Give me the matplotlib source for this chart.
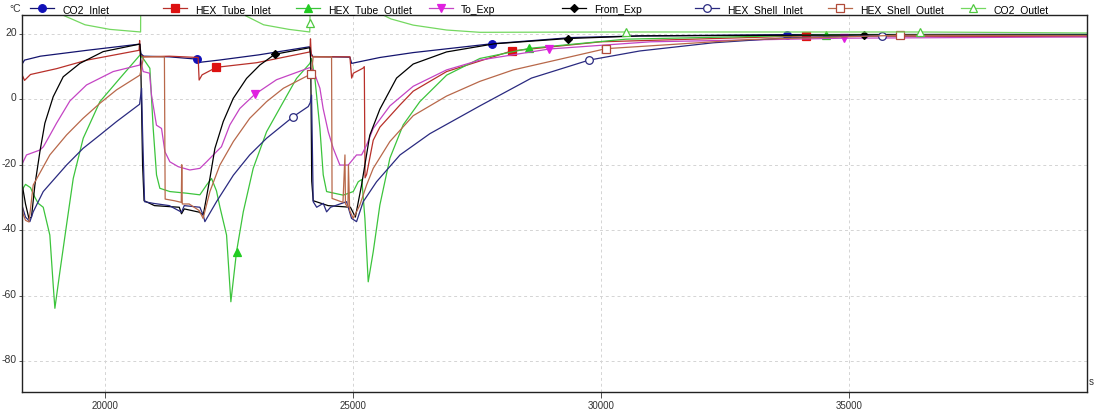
import matplotlib
matplotlib.use("Agg")
import matplotlib.pyplot as plt
import matplotlib.transforms as mtransforms
from matplotlib.lines import Line2D

# time [s], temperature [degC]
co2_inlet = [(18320, 10.5), (18380, 12.0), (18700, 13.2), (19640, 15.0), (20705, 16.9), (20725, 14.0),
             (20780, 13.2), (21300, 13.0), (21850, 12.3), (21900, 11.3), (22300, 12.0), (23100, 13.6),
             (24133, 16.1), (24160, 14.0), (24190, 13.1), (24600, 13.0), (24940, 12.9), (24975, 11.0),
             (25544, 12.8), (26216, 14.3), (27800, 17.0), (29410, 18.9), (30786, 19.4), (33750, 19.8),
             (39800, 19.9)]
hex_tube_inlet = [(18320, 5.0), (18340, 7.2), (18380, 5.8), (18500, 7.6), (19030, 9.4), (19640, 12.0),
                  (20690, 15.0), (20700, 18.0), (20712, 13.5), (20780, 13.0), (21300, 13.2), (21880, 12.8),
                  (21900, 5.9), (21960, 7.5), (22250, 9.8), (23058, 11.2), (24133, 14.5), (24145, 18.5),
                  (24160, 13.5), (24190, 13.0), (24940, 13.0), (24975, 6.5), (25010, 8.0), (25200, 9.5),
                  (25230, 10.0), (25245, -24.0), (25276, -23.0), (25410, -12.5), (25544, -8.5), (25950, -1.7),
                  (26216, 2.5), (26890, 8.5), (28200, 14.8), (30000, 17.6), (34140, 19.4), (39800, 19.2)]
hex_tube_outlet = [(18320, -28.0), (18400, -26.0), (18500, -27.0), (18590, -30.0), (18656, -31.8),
                   (18757, -33.0), (18890, -41.5), (18958, -56.8), (18992, -63.9), (19093, -52.7),
                   (19227, -38.4), (19362, -24.2), (19563, -11.9), (19900, -0.7), (20300, 6.4), (20705, 13.5),
                   (20772, 12.5), (20907, 9.5), (20974, -8.9), (21041, -23.1), (21108, -27.2), (21310, -28.2),
                   (21646, -28.7), (21915, -29.2), (22050, -26.2), (22150, -24.2), (22250, -28.0),
                   (22320, -33.0), (22453, -41.5), (22540, -61.9), (22654, -46.6), (22790, -34.4),
                   (22990, -21.1), (23260, -9.9), (23600, -0.7), (23864, 6.4), (24133, 11.0), (24167, 12.5),
                   (24234, 6.4), (24335, -8.9), (24402, -23.1), (24470, -28.2), (24805, -29.3), (25007, -28.2),
                   (25108, -25.2), (25180, -24.5), (25242, -36.4), (25309, -55.8), (25410, -46.6),
                   (25544, -32.3), (25746, -18.0), (26014, -7.8), (26350, -0.7), (26890, 7.4), (27560, 12.5),
                   (28560, 15.6), (30500, 18.4), (34540, 19.7), (39800, 19.8)]
to_exp = [(18320, -20.1), (18420, -17.0), (18690, -15.5), (18760, -14.5), (18890, -11.0), (19025, -7.3),
          (19294, -0.5), (19630, 4.4), (20168, 8.5), (20705, 10.5), (20720, 12.0), (20772, 8.5), (20900, 8.0),
          (20940, 1.3), (21040, -7.9), (21142, -8.9), (21210, -16.0), (21310, -19.1), (21480, -20.6),
          (21713, -21.6), (21915, -21.1), (22050, -19.1), (22250, -16.0), (22350, -14.5), (22520, -7.8),
          (22720, -2.8), (23020, 1.5), (23460, 6.0), (24130, 9.7), (24200, 9.0), (24335, 3.4), (24400, -2.8),
          (24503, -9.9), (24604, -15.0), (24738, -20.1), (24906, -20.1), (25074, -17.0), (25175, -17.0),
          (25276, -14.0), (25410, -8.9), (25746, -2.0), (26216, 4.0), (26888, 9.0), (27560, 12.0),
          (28960, 15.4), (31000, 17.6), (34900, 18.7), (39800, 19.1)]
from_exp = [(18320, -25.0), (18400, -32.0), (18470, -36.5), (18520, -36.0), (18589, -26.2), (18690, -16.0),
            (18790, -7.3), (18958, 0.8), (19160, 6.9), (19496, 11.0), (19966, 14.6), (20705, 16.9),
            (20720, 14.0), (20760, -20.0), (20790, -31.0), (21000, -32.5), (21500, -33.0), (21545, -35.0),
            (21600, -33.5), (21900, -34.5), (21983, -35.4), (22117, -24.2), (22218, -15.0), (22386, -6.8),
            (22588, 0.3), (22856, 6.4), (23125, 10.5), (23428, 13.8), (24133, 15.8), (24150, 12.0),
            (24170, -25.0), (24200, -31.0), (24500, -32.5), (24950, -33.0), (25050, -36.0), (25175, -26.2),
            (25340, -11.0), (25544, -3.0), (25880, 6.5), (26216, 10.8), (26888, 14.5), (27860, 17.0),
            (29340, 18.6), (30786, 19.4), (35300, 19.7), (39800, 19.7)]
hex_shell_inlet = [(18320, -32.0), (18400, -36.0), (18488, -37.4), (18555, -34.4), (18757, -28.2),
                   (19227, -20.1), (19560, -15.0), (19900, -10.9), (20235, -6.8), (20638, -2.2), (20700, -1.5),
                   (20740, 3.4), (20760, -10.0), (20800, -31.3), (20974, -31.8), (21300, -32.5), (21545, -34.5),
                   (21600, -32.5), (21915, -33.0), (21982, -35.4), (22016, -37.4), (22250, -31.3),
                   (22590, -23.2), (22920, -17.0), (23260, -11.9), (23797, -5.3), (24100, -2.2), (24140, -1.0),
                   (24167, 1.3), (24200, -31.3), (24270, -33.0), (24402, -31.8), (24470, -34.4), (24550, -33.0),
                   (24872, -31.3), (24973, -36.4), (25074, -37.4), (25208, -31.3), (25477, -25.2),
                   (25950, -17.0), (26552, -10.5), (27560, -2.0), (28600, 6.5), (29760, 12.0), (30786, 14.8),
                   (32264, 17.3), (33742, 18.8), (35660, 19.5), (39800, 19.6)]
hex_shell_outlet = [(18320, -30.0), (18350, -35.0), (18400, -37.0), (18470, -37.5), (18555, -26.2),
                    (18890, -17.0), (19227, -10.9), (19560, -5.8), (19900, -1.2), (20235, 2.9), (20705, 7.4),
                    (20730, 9.0), (20780, 13.0), (21200, 13.0), (21215, -30.5), (21400, -31.0), (21540, -31.5),
                    (21550, -20.0), (21560, -32.0), (21700, -32.0), (21900, -34.0), (21980, -36.4),
                    (22117, -28.2), (22318, -20.1), (22590, -12.9), (22920, -5.8), (23260, -0.7), (23600, 3.4),
                    (24160, 7.8), (24175, 9.5), (24200, 13.0), (24570, 13.0), (24580, -30.3), (24800, -31.5),
                    (24840, -17.0), (24850, -32.0), (24900, -33.0), (24910, -20.0), (24935, -34.0),
                    (25007, -36.4), (25141, -32.3), (25276, -26.2), (25410, -21.1), (25746, -12.9),
                    (26216, -5.0), (26888, 1.0), (27560, 5.5), (28232, 9.0), (29240, 12.5), (30100, 15.5),
                    (33000, 18.3), (36040, 19.6), (39800, 19.5)]
co2_outlet = [(18320, 60.0), (18900, 40.0), (19050, 30.0), (19160, 25.7), (19600, 22.8), (20100, 21.4),
              (20720, 20.6), (20730, 60.0), (22550, 60.0), (22700, 30.0), (22780, 26.0), (23200, 22.8),
              (23710, 21.4), (24130, 20.6), (24135, 23.4), (24140, 60.0), (25200, 40.0), (25450, 27.0),
              (25766, 24.6), (26216, 22.7), (26890, 21.2), (27560, 20.5), (30500, 20.6), (36440, 20.6),
              (39800, 20.3)]

# x positions where the chart puts its series symbols
marks = {
    "CO2_Inlet": [21850, 27800, 33750],
    "HEX_Tube_Inlet": [22250, 28200, 34140],
    "HEX_Tube_Outlet": [22654, 28560, 34540],
    "To_Exp": [23020, 28960, 34900],
    "From_Exp": [23428, 29340, 35300],
    "HEX_Shell_Inlet": [23797, 29760, 35660],
    "HEX_Shell_Outlet": [24160, 30100, 36040],
    "CO2_Outlet": [24135, 30500, 36440],
}

x_ticks = [20000, 25000, 30000, 35000]
y_ticks = [-80, -60, -40, -20, 0, 20]

# name, data, line colour, marker, marker face, marker edge
series = [
    ("CO2_Inlet", co2_inlet, "#14146e", "o", "#1010b8", "#1010b8"),
    ("HEX_Tube_Inlet", hex_tube_inlet, "#b8302a", "s", "#dd1111", "#dd1111"),
    ("HEX_Tube_Outlet", hex_tube_outlet, "#3cc43c", "^", "#22cc22", "#22cc22"),
    ("To_Exp", to_exp, "#c444c4", "v", "#e020e0", "#e020e0"),
    ("From_Exp", from_exp, "#000000", "D", "#000000", "#000000"),
    ("HEX_Shell_Inlet", hex_shell_inlet, "#2a2a80", "o", "white", "#2a2a80"),
    ("HEX_Shell_Outlet", hex_shell_outlet, "#b8684a", "s", "white", "#b04a3a"),
    ("CO2_Outlet", co2_outlet, "#74d860", "^", "white", "#50c840"),
]

plt.rcParams["font.family"] = ["Liberation Sans Narrow", "Liberation Sans", "DejaVu Sans"]
plt.rcParams["axes.unicode_minus"] = False

fig = plt.figure(figsize=(10.94, 4.14), dpi=100)
ax = fig.add_axes([0.0197, 0.0507, 0.9739, 0.9107])

handles = []
for name, data, col, mk, face, edge in series:
    xs = [p[0] for p in data]
    ys = [p[1] for p in data]
    idx = [xs.index(m) for m in marks[name]]
    ms = 4.5 if mk == "D" else 5.5
    ax.plot(xs, ys, color=col, lw=0.9, marker=mk, markevery=idx, markersize=ms,
            markerfacecolor=face, markeredgecolor=edge, markeredgewidth=0.9)
    handles.append(Line2D([], [], color=col, lw=0.9, marker=mk, markersize=ms,
                          markerfacecolor=face, markeredgecolor=edge, markeredgewidth=0.9))

ax.set_xlim(18320, 39800)
ax.set_ylim(-89.5, 25.8)
ax.set_xticks(x_ticks)
ax.set_yticks(y_ticks)
ax.grid(True, color="#d4d4d4", linestyle=(0, (3, 3)), linewidth=0.7)
ax.set_axisbelow(True)
ax.tick_params(axis="x", labelsize=7, length=4, width=0.6, pad=2, colors="#333333")
ax.tick_params(axis="y", labelsize=7.5, length=2, width=0.6, pad=1.5, colors="#333333")
for sp in ax.spines.values():
    sp.set_linewidth(1.0)
    sp.set_color("#222222")

# the software draws the value labels a little above their grid lines
shift = mtransforms.ScaledTranslation(0, 3 / 100, fig.dpi_scale_trans)
for lab in ax.get_yticklabels():
    lab.set_transform(lab.get_transform() + shift)

# legend row above the plot, evenly spaced entries
for i, (h, s) in enumerate(zip(handles, series)):
    fig.legend(handles=[h], labels=[s[0]], loc="center left",
               bbox_to_anchor=((30 + 133 * i) / 1094, 1 - 10 / 414),
               frameon=False, fontsize=7.5, handlelength=2.3, handletextpad=0.8,
               borderpad=0, borderaxespad=0)

fig.text(9 / 1094, 1 - 9 / 414, "\u00b0C", fontsize=7.5, va="center", color="#333333")
ax.text(1.002, 0.03, "s", transform=ax.transAxes, fontsize=7, va="center", clip_on=False, color="#333333")

fig.savefig("out.png", dpi=100)
